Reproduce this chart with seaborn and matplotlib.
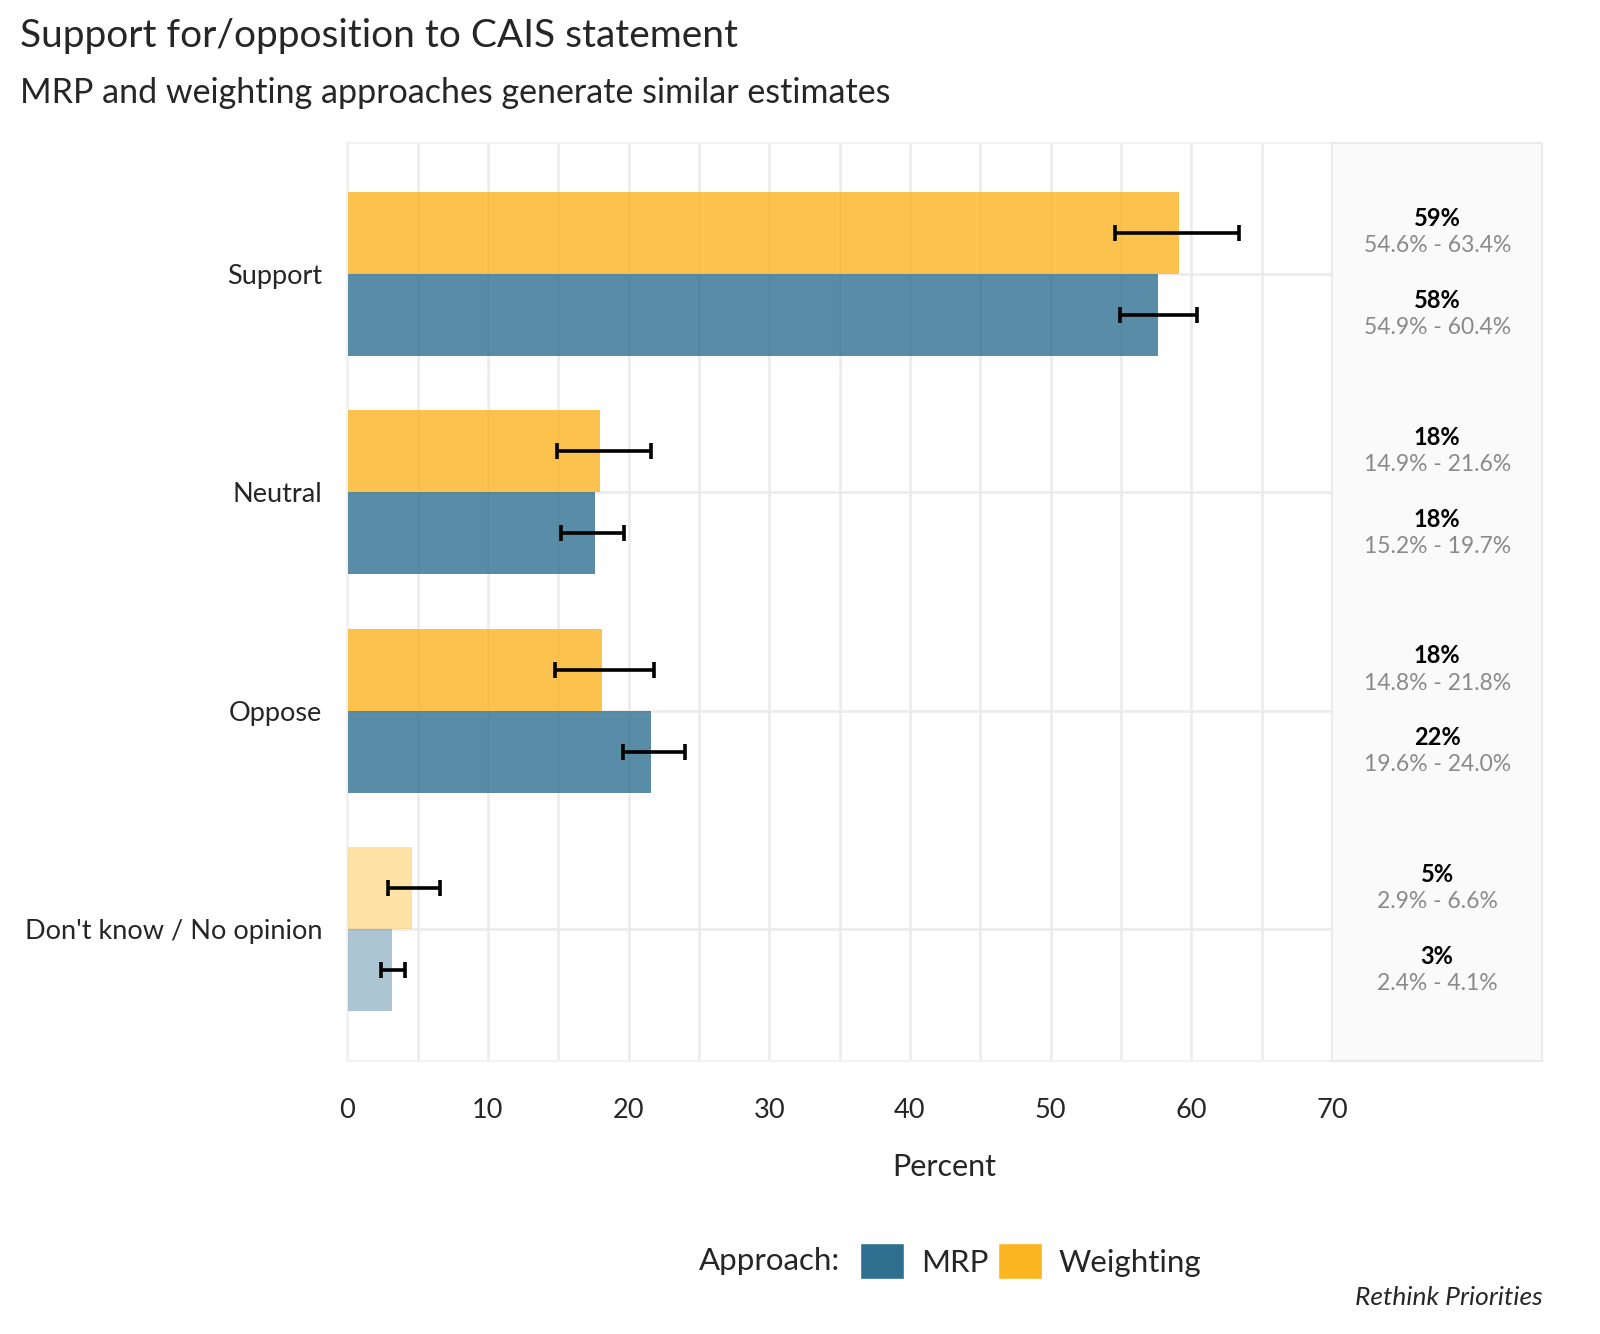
import pandas as pd
import seaborn as sns
import matplotlib.pyplot as plt
from matplotlib.patches import Patch
from matplotlib.colors import to_rgba

# data
categories = ["Support", "Neutral", "Oppose", "Don't know / No opinion"]
mrp_est = [57.6, 17.6, 21.6, 3.2]
mrp_low = [54.9, 15.2, 19.6, 2.4]
mrp_high = [60.4, 19.7, 24.0, 4.1]
wt_est = [59.1, 18.0, 18.1, 4.6]
wt_low = [54.6, 14.9, 14.8, 2.9]
wt_high = [63.4, 21.6, 21.8, 6.6]

approaches = ["Weighting", "MRP"]
colors = {"MRP": "#2F7090", "Weighting": "#FBB520"}

df = pd.DataFrame({
    "Response": categories * 2,
    "Approach": ["MRP"] * 4 + ["Weighting"] * 4,
    "Percent": mrp_est + wt_est,
    "low": mrp_low + wt_low,
    "high": mrp_high + wt_high,
})

sns.set_theme(style="white")
plt.rcParams["font.family"] = ["Lato", "DejaVu Sans"]

fig = plt.figure(figsize=(16, 13.34), dpi=100)
ax = fig.add_axes([0.217, 0.205, 0.6155, 0.688])
ax2 = fig.add_axes([0.8325, 0.205, 0.1315, 0.688], sharey=ax)

sns.barplot(data=df, y="Response", x="Percent", hue="Approach",
            hue_order=approaches, order=categories, palette=colors,
            width=0.75, errorbar=None, ax=ax, legend=False, zorder=2)

# fade bars (don't know lighter), add error bars and labels
lookup = df.set_index(["Approach", "Response"])
for cont, appr in zip(ax.containers, approaches):
    for bar, cat in zip(cont, categories):
        alpha = 0.4 if cat.startswith("Don't") else 0.8
        bar.set_facecolor(to_rgba(colors[appr], alpha))
        bar.set_edgecolor("none")
        row = lookup.loc[(appr, cat)]
        yc = bar.get_y() + bar.get_height() / 2
        ax.errorbar(row["Percent"], yc,
                    xerr=[[row["Percent"] - row["low"]], [row["high"] - row["Percent"]]],
                    fmt="none", ecolor="black", elinewidth=2.6, capsize=5.5,
                    capthick=2.6, zorder=3)
        ax2.text(0.5, yc - 0.065, f"{round(row['Percent'])}%", ha="center",
                 va="center", fontsize=17, fontweight="bold", color="black")
        ax2.text(0.5, yc + 0.06, f"{row['low']:.1f}% - {row['high']:.1f}%",
                 ha="center", va="center", fontsize=16.5, color="#8a8a8a")

grid_c = "#ebebeb"
ax.set_xlim(0, 70)
ax.set_ylim(3.6, -0.6)
ax.set_xticks(range(0, 71, 10))
ax.set_xticks(range(5, 70, 10), minor=True)
ax.grid(True, which="both", axis="x", color=grid_c, lw=1.8, zorder=0)
ax.grid(True, which="major", axis="y", color=grid_c, lw=1.8, zorder=0)
ax.set_axisbelow(True)
for s in ax.spines.values():
    s.set_color("#f2f2f2")
    s.set_linewidth(1.5)
ax.tick_params(axis="y", length=0, labelsize=19.5, pad=18)
ax.tick_params(axis="x", length=0, labelsize=19.5, pad=27)
ax.set_ylabel("")
ax.set_xlabel("")

ax2.set_facecolor("#fafafa")
ax2.set_xlim(0, 1)
ax2.set_xticks([])
ax2.tick_params(axis="y", left=False, labelleft=False)
for s in ax2.spines.values():
    s.set_color("#ebebeb")
    s.set_linewidth(1.5)

# x label centred over both panels
fig.text(0.59, 0.125, "Percent", fontsize=22, ha="center", va="center")

fig.text(0.0125, 0.973, "Support for/opposition to CAIS statement",
         fontsize=28, va="center", ha="left")
fig.text(0.0125, 0.930, "MRP and weighting approaches generate similar estimates",
         fontsize=24.5, va="center", ha="left")

fig.text(0.437, 0.0545, "Approach:", fontsize=22.5, va="center", ha="left")
handles = [Patch(facecolor=colors["MRP"], label="MRP"),
           Patch(facecolor=colors["Weighting"], label="Weighting")]
fig.legend(handles=handles, loc="center left", bbox_to_anchor=(0.52, 0.0545),
           ncol=2, frameon=False, fontsize=22.5, handlelength=1.4,
           handleheight=1.4, handletextpad=0.55, columnspacing=0.3)
fig.text(0.964, 0.027, "Rethink Priorities", fontsize=19, style="italic",
         ha="right", va="center")

fig.savefig("out.png", dpi=100)
